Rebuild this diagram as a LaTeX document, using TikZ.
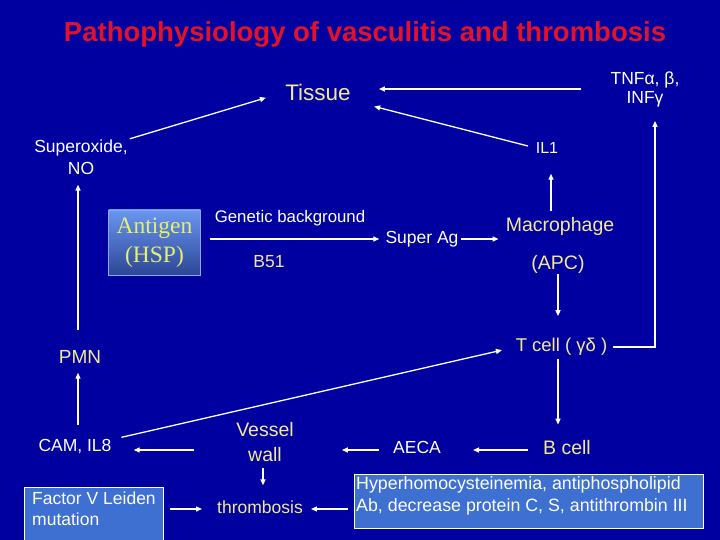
\documentclass[tikz,border=0pt]{standalone}
\usepackage{fontspec}
\setmainfont{Liberation Sans}
\newfontfamily\serifA{Liberation Serif}
\usetikzlibrary{arrows.meta}
\definecolor{bg}{RGB}{0,0,160}
\definecolor{ttl}{RGB}{228,18,40}
\definecolor{yel}{RGB}{245,232,150}
\definecolor{boxblue}{RGB}{62,112,210}
\definecolor{agtext}{RGB}{228,240,110}
\definecolor{agtop}{RGB}{105,150,240}
\definecolor{agbot}{RGB}{45,70,150}
\tikzset{
  lbl/.style={font=\fontsize{17.5}{21}\selectfont, text=white, inner sep=0pt, align=center},
  ylbl/.style={lbl, text=yel},
  arr/.style={-{Triangle[length=6pt,width=5pt]}, line width=1.3pt, draw=white},
  ttlstyle/.style={font=\fontsize{27.5}{30}\selectfont\bfseries, text=ttl, inner sep=0pt},
  agbox/.style={draw={rgb,255:red,130;green,170;blue,245}, line width=0.8pt, top color=agtop, bottom color=agbot,
     minimum width=92pt, minimum height=65pt, inner sep=0pt, align=center,
     font=\serifA\fontsize{23.5}{29}\selectfont, text=agtext},
  bluebox/.style={draw=white, line width=0.8pt, fill=boxblue, inner sep=0pt},
  boxtext/.style={font=\fontsize{17.8}{22.5}\selectfont, text=white, inner sep=0pt, align=left}
}
\begin{document}
\begin{tikzpicture}[x=1pt,y=-1pt]
\fill[bg] (0,0) rectangle (720,540);
\useasboundingbox (0,0) rectangle (720,540);

\node[ttlstyle] (title) at (365,34) {Pathophysiology of vasculitis and thrombosis};

\node[ylbl, font=\fontsize{22.5}{24}\selectfont] (tissue) at (318,92) {Tissue};
\node[lbl, font=\fontsize{17.5}{19}\selectfont] (tnf) at (645,89) {TNFα, β,\\INFγ};
\node[lbl, font=\fontsize{17.5}{22}\selectfont] (sup) at (81,157) {Superoxide,\\NO};
\node[lbl, font=\fontsize{16}{18}\selectfont] (il1) at (547,148) {IL1};

\node[agbox] (antigen) at (154.5,242.5) {Antigen\\(HSP)};
\node[lbl, font=\fontsize{16.8}{19}\selectfont] (gen) at (290,218) {Genetic background};
\node[ylbl] (b51) at (269,262) {B51};
\node[lbl] (sag) at (422,239) {Super Ag};
\node[ylbl, font=\fontsize{19.5}{21}\selectfont] (macro) at (560,226) {Macrophage};
\node[ylbl, font=\fontsize{19.5}{21}\selectfont] (apc) at (558,264) {(APC)};

\node[ylbl, font=\fontsize{19}{21}\selectfont] (pmn) at (80,357) {PMN};
\node[ylbl, font=\fontsize{18.5}{21}\selectfont] (tcell) at (561.5,347) {T cell ( γδ )};

\node[lbl] (cam) at (75,447) {CAM, IL8};
\node[ylbl, font=\fontsize{19.5}{25}\selectfont] (vessel) at (265,442) {Vessel\\wall};
\node[lbl] (aeca) at (417,447) {AECA};
\node[ylbl, font=\fontsize{19.5}{21}\selectfont] (bcell) at (567,448) {B cell};
\node[ylbl] (thromb) at (260,507) {thrombosis};

\node[bluebox, minimum width=139pt, minimum height=62pt, anchor=north west] (factorbox) at (24,487) {};
\node[boxtext, anchor=north west, font=\fontsize{17.5}{21}\selectfont] (factortext) at (32,492) {Factor V Leiden\\mutation};
\node[bluebox, minimum width=349pt, minimum height=54pt, anchor=north west] (hyperbox) at (354,474) {};
\node[boxtext, anchor=north west] (hypertext) at (356,476) {Hyperhomocysteinemia, antiphospholipid\\Ab, decrease protein C, S, antithrombin III};

% connectors
\draw[arr, shorten <=29pt, shorten >=28pt] (tnf.west) -- (tissue.east |- tnf.west);
\draw[arr, shorten <=8pt, shorten >=24pt] (il1.west) -- (tissue.south east);
\draw[arr, shorten <=2pt, shorten >=20pt] (sup.north east) -- (tissue.west);
\draw[arr, shorten <=6pt, shorten >=14pt] (tcell.east) -| ([xshift=10pt]tnf.south);

\draw[arr, shorten <=9pt, shorten >=6pt] (sag.west -| antigen.east) -- (sag.west);
\draw[arr, shorten <=2pt, shorten >=7pt] (sag.east) -- (sag.east -| macro.west);
\draw[arr, shorten <=6pt, shorten >=20pt] ([xshift=4pt]il1.south |- macro.north) -- ([xshift=4pt]il1.south);
\draw[arr, shorten <=1pt, shorten >=22pt] (apc.south) -- (apc.south |- tcell.north);

\draw[arr, shorten <=20pt, shorten >=10pt] ([xshift=-2pt]pmn.north) -- ([xshift=-2pt]pmn.north |- sup.south);
\draw[arr, shorten <=15pt, shorten >=9pt] ([xshift=-2pt]pmn.south |- cam.north) -- ([xshift=-2pt]pmn.south);
\draw[arr, shorten <=10pt, shorten >=14pt] (cam.north east) -- (tcell.west);
\draw[arr, shorten <=3pt, shorten >=16pt] ([xshift=-3.5pt]tcell.south) -- ([xshift=-3.5pt]tcell.south |- bcell.north);

\draw[arr, shorten <=15pt, shorten >=32pt] ([yshift=-2pt]bcell.west) -- ([yshift=-2pt]bcell.west -| aeca.east);
\draw[arr, shorten <=14pt, shorten >=48pt] ([yshift=-3pt]aeca.west) -- ([yshift=-3pt]aeca.west -| vessel.east);
\draw[arr, shorten <=42pt, shorten >=22pt] ([yshift=-3pt]vessel.west |- cam.east) -- ([yshift=-3pt]cam.east);
\draw[arr, shorten <=6pt, shorten >=15pt] ([xshift=-2pt]vessel.south) -- ([xshift=-2pt]vessel.south |- thromb.north);
\draw[arr, shorten <=6pt, shorten >=15pt] ([yshift=-2pt]thromb.west -| factorbox.east) -- ([yshift=-2pt]thromb.west);
\draw[arr, shorten <=6pt, shorten >=8pt] ([yshift=-2pt]thromb.east -| hyperbox.west) -- ([yshift=-2pt]thromb.east);
\end{tikzpicture}
\end{document}
